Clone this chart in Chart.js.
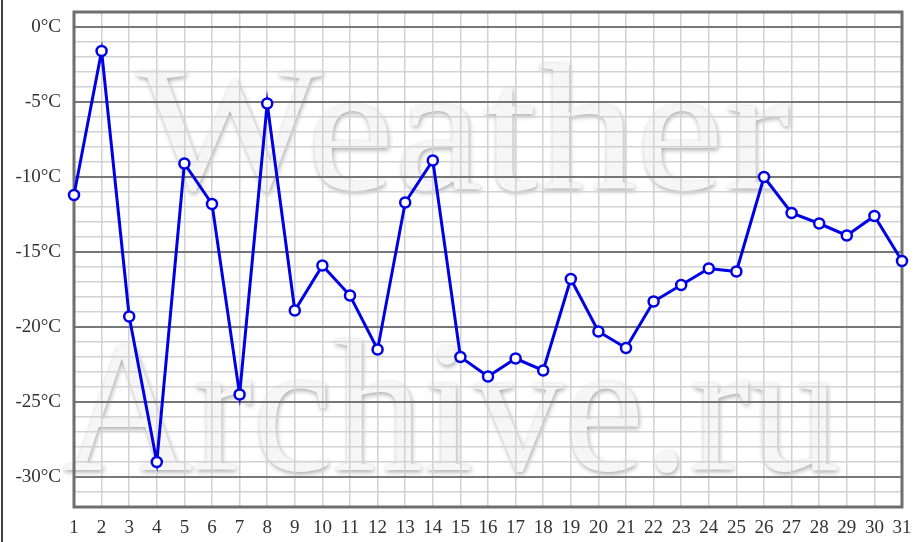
<!DOCTYPE html>
<html>
<head>
<meta charset="utf-8">
<script src="https://cdn.jsdelivr.net/npm/chart.js@4"></script>
<style>
  html, body { margin: 0; padding: 0; background: #fff; }
  #wrap { width: 915px; height: 542px; position: relative; }
</style>
</head>
<body>
<div id="wrap"><canvas id="chart" width="915" height="542"></canvas></div>
<script>
// Days of the month
const days = ['1','2','3','4','5','6','7','8','9','10','11','12','13','14','15','16',
  '17','18','19','20','21','22','23','24','25','26','27','28','29','30','31'];

// Temperature, °C
const temps = [-11.2, -1.6, -19.3, -29.0, -9.1, -11.8, -24.5, -5.1, -18.9, -15.9,
  -17.9, -21.5, -11.7, -8.9, -22.0, -23.3, -22.1, -22.9, -16.8, -20.3, -21.4,
  -18.3, -17.2, -16.1, -16.3, -10.0, -12.4, -13.1, -13.9, -12.6, -15.6];

// Y range and labelled ticks
const yMin = -32;
const yMax = 1;
const yLabelStep = 5;

const watermarkTop = 'Weather';
const watermarkBottom = 'Archive.ru';

// Draws the faint watermark text behind the grid
const watermark = {
  id: 'watermark',
  beforeDraw(chart) {
    const ctx = chart.ctx;
    const drawWord = (text, size, left, right, baseline) => {
      ctx.save();
      ctx.font = size + 'px "Liberation Serif", serif';
      const w = ctx.measureText(text).width;
      ctx.translate(left, baseline);
      ctx.scale((right - left) / w, 1);
      ctx.fillStyle = '#f6f6f6';
      ctx.shadowColor = 'rgba(0,0,0,0.35)';
      ctx.shadowBlur = 5;
      ctx.shadowOffsetX = 1;
      ctx.shadowOffsetY = 2;
      ctx.textBaseline = 'alphabetic';
      ctx.fillText(text, 0, 0);
      ctx.restore();
    };
    drawWord(watermarkTop, 180, 136, 790, 189);
    drawWord(watermarkBottom, 188, 62, 840, 470);
  }
};

// Frame round the plot area and the thin line on the left edge
const frame = {
  id: 'frame',
  beforeDatasetsDraw(chart) {
    const { ctx, chartArea: a } = chart;
    ctx.save();
    ctx.strokeStyle = '#6e6e6e';
    ctx.lineWidth = 3;
    ctx.strokeRect(a.left, a.top, a.right - a.left, a.bottom - a.top);
    ctx.strokeStyle = '#000';
    ctx.lineWidth = 1.5;
    ctx.beginPath();
    ctx.moveTo(2, 0);
    ctx.lineTo(2, chart.height);
    ctx.stroke();
    ctx.restore();
  }
};

new Chart(document.getElementById('chart'), {
  type: 'line',
  data: {
    labels: days,
    datasets: [{
      data: temps,
      borderColor: '#0000e6',
      borderWidth: 3,
      backgroundColor: '#fff',
      pointBackgroundColor: '#fff',
      pointBorderColor: '#0000e6',
      pointBorderWidth: 2.5,
      pointRadius: 5,
      tension: 0,
      fill: false,
      clip: false
    }]
  },
  options: {
    responsive: false,
    animation: false,
    layout: { padding: { top: 12, right: 13, left: 0, bottom: 0 } },
    plugins: {
      legend: { display: false },
      tooltip: { enabled: false }
    },
    scales: {
      x: {
        offset: false,
        grid: { color: '#d2d2d2', lineWidth: 1.5, drawTicks: false },
        border: { display: false },
        ticks: {
          autoSkip: false,
          maxRotation: 0,
          padding: 10,
          color: '#333',
          font: { family: '"Liberation Serif", serif', size: 19 }
        },
        afterFit(scale) {
          scale.height = 35;
          scale.paddingLeft = 0;
          scale.paddingRight = 0;
        }
      },
      y: {
        min: yMin,
        max: yMax,
        grid: {
          drawTicks: false,
          color: ctx => (ctx.tick.value % yLabelStep === 0 ? '#777' : '#d2d2d2'),
          lineWidth: ctx => (ctx.tick.value % yLabelStep === 0 ? 2 : 1.5)
        },
        border: { display: false },
        ticks: {
          stepSize: 1,
          autoSkip: false,
          padding: 13,
          color: '#333',
          font: { family: '"Liberation Serif", serif', size: 19 },
          callback: v => (v % yLabelStep === 0 ? v + '°C' : '')
        },
        afterFit(scale) {
          scale.width = 74;
          scale.paddingTop = 0;
          scale.paddingBottom = 0;
        }
      }
    }
  },
  plugins: [watermark, frame]
});
</script>
</body>
</html>
